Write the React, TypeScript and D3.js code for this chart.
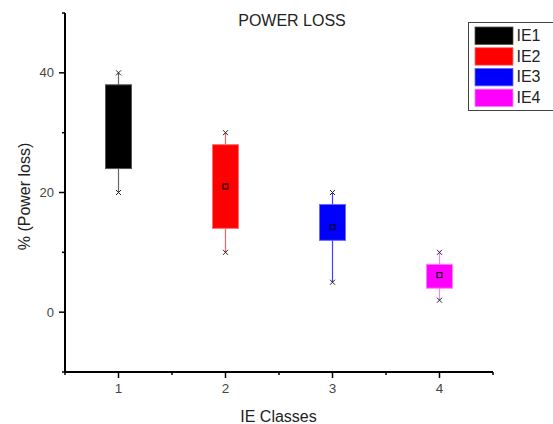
import React from "react";
import * as d3 from "d3";

const categories = ["IE1", "IE2", "IE3", "IE4"];
const xPositions = [1, 2, 3, 4];
const q1 = [24, 14, 12, 4];
const q3 = [38, 28, 18, 8];
const minV = [20, 10, 5, 2];
const maxV = [40, 30, 20, 10];
const meanV = [31, 21, 14.2, 6.2];
const fills = ["#000000", "#ff0000", "#0000ff", "#ff00ff"];
const edges = ["#555555", "#ff7070", "#6a6aff", "#ff80ff"];
const whiskerColors = ["#666666", "#ff6060", "#4040ff", "#ff80ff"];
const yMajor = [0, 20, 40];
const yMinor = [-10, 10, 30, 50];
const xMajor = [1, 2, 3, 4];
const xMinor = [0.5, 1.5, 2.5, 3.5, 4.5];

const W = 553;
const H = 424;
const left = 65;
const right = 493;
const top = 13;
const bottom = 372;

export default function App() {
  const x = d3.scaleLinear().domain([0.5, 4.5]).range([left, right]);
  const y = d3.scaleLinear().domain([-10, 50]).range([bottom, top]);
  const boxW = 26;
  const font = "'Liberation Sans', Arial, sans-serif";

  const xMark = (cx: number, cy: number, key: string) => (
    <path
      key={key}
      d={`M${cx - 2.5},${cy - 2.5}L${cx + 2.5},${cy + 2.5}M${cx + 2.5},${cy - 2.5}L${cx - 2.5},${cy + 2.5}`}
      stroke="#222"
      strokeWidth={1}
    />
  );

  return (
    <svg
      width={W}
      height={H}
      style={{ position: "absolute", left: 0, top: 0, background: "#fff" }}
      fontFamily={font}
    >
      <rect x={0} y={0} width={W} height={H} fill="#fff" />
      {categories.map((c, i) => {
        const cx = x(xPositions[i]);
        return (
          <g key={c}>
            <line x1={cx} x2={cx} y1={y(maxV[i])} y2={y(minV[i])} stroke={whiskerColors[i]} strokeWidth={1.2} />
            <rect
              x={cx - boxW / 2}
              y={y(q3[i])}
              width={boxW}
              height={y(q1[i]) - y(q3[i])}
              fill={fills[i]}
              stroke={edges[i]}
              strokeWidth={1}
            />
            {xMark(cx, y(maxV[i]), "max")}
            {xMark(cx, y(minV[i]), "min")}
            <rect
              x={cx - 2.5}
              y={y(meanV[i]) - 2.5}
              width={5}
              height={5}
              fill="none"
              stroke="#000"
              strokeWidth={1}
            />
          </g>
        );
      })}
      <line x1={left} x2={left} y1={top} y2={bottom} stroke="#000" strokeWidth={2} />
      <line x1={left} x2={right} y1={bottom} y2={bottom} stroke="#000" strokeWidth={2} />
      {yMajor.map((v) => (
        <g key={"ym" + v}>
          <line x1={left - 6} x2={left} y1={y(v)} y2={y(v)} stroke="#000" strokeWidth={1.5} />
          <text x={left - 11} y={y(v) + 4.5} textAnchor="end" fontSize={13} fill="#454545">
            {v}
          </text>
        </g>
      ))}
      {yMinor.map((v) => (
        <line key={"yn" + v} x1={left - 3} x2={left} y1={y(v)} y2={y(v)} stroke="#000" strokeWidth={1.5} />
      ))}
      {xMajor.map((v) => (
        <g key={"xm" + v}>
          <line x1={x(v)} x2={x(v)} y1={bottom} y2={bottom + 6} stroke="#000" strokeWidth={1.5} />
          <text x={x(v)} y={bottom + 21} textAnchor="middle" fontSize={13.5} fill="#454545">
            {v}
          </text>
        </g>
      ))}
      {xMinor.map((v) => (
        <line key={"xn" + v} x1={x(v)} x2={x(v)} y1={bottom} y2={bottom + 3} stroke="#000" strokeWidth={1.5} />
      ))}
      <text x={292} y={25.5} textAnchor="middle" fontSize={16} fill="#222">
        POWER LOSS
      </text>
      <text x={278.5} y={421.5} textAnchor="middle" fontSize={16} fill="#222">
        IE Classes
      </text>
      <text
        transform={`translate(29.5,196.5) rotate(-90)`}
        textAnchor="middle"
        fontSize={16}
        fill="#222"
      >
        % (Power loss)
      </text>
      <rect x={468.5} y={22.5} width={90} height={88} fill="#fff" stroke="#444" strokeWidth={1} />
      {categories.map((c, i) => (
        <g key={"lg" + c}>
          <rect x={475} y={27 + i * 20.7} width={38} height={17.5} fill={fills[i]} stroke={edges[i]} strokeWidth={0.8} />
          <text x={516.5} y={41 + i * 20.7} fontSize={16} fill="#222">
            {c}
          </text>
        </g>
      ))}
    </svg>
  );
}
